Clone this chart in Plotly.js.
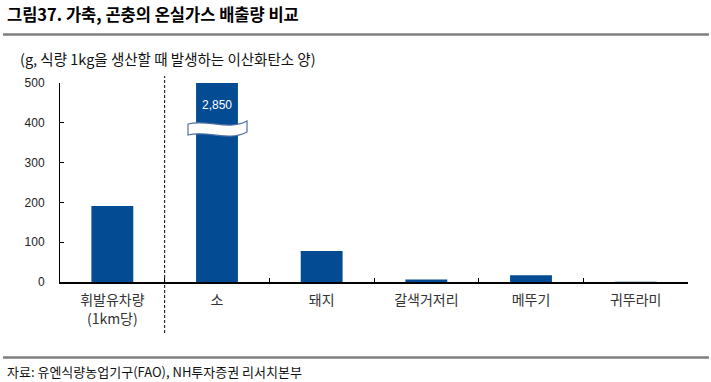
<!DOCTYPE html>
<html>
<head>
<meta charset="utf-8">
<script src="https://cdn.plot.ly/plotly-3.0.1.min.js"></script>
<style>html,body{margin:0;padding:0;background:#fff;}</style>
</head>
<body>
<div id="chart" style="width:711px;height:382px;"></div>
<script>
const categories = ['휘발유차량<br>(1km당)', '소', '돼지', '갈색거저리', '메뚜기', '귀뚜라미'];
const values = [191, 2850, 78, 6, 17, 0.5];
const yTicks = [0, 100, 200, 300, 400, 500];
const yMax = 500;
const titleText = '그림37. 가축, 곤충의 온실가스 배출량 비교';
const unitText = '(g, 식량 1kg을 생산할 때 발생하는 이산화탄소 양)';
const sourceText = '자료: 유엔식량농업기구(FAO), NH투자증권 리서치본부';

const KR = '"Noto Sans CJK KR", "Noto Sans", sans-serif';
const NUM = '"Liberation Sans", Arial, sans-serif';
const barColor = '#034C93';

// pixel helpers for decoration placement (plot area 60..688 x, 83..282 y)
const L = 60, R = 688, T = 83, B = 282;
const px = p => (p - L) / (R - L);
const py = p => (B - p) / (B - T);

const brokenIdx = values.findIndex(v => v > yMax);

// break marker (wavy white band) in data coords around the broken bar
const cx = brokenIdx, w = (R - L) / categories.length, ys = yMax / (B - T);
const X = p => cx + (p - 217) / w;
const Y = p => (B - p) * ys;
const breakPath = `M${X(188)},${Y(124)} C${X(208)},${Y(119)} ${X(228)},${Y(131)} ${X(247)},${Y(121)} ` +
  `L${X(247)},${Y(132)} C${X(228)},${Y(142)} ${X(208)},${Y(130)} ${X(188)},${Y(135)} Z`;

const trace = {
  type: 'bar',
  x: categories,
  y: values,
  marker: {color: barColor, line: {width: 0}},
  width: 0.4,
  hoverinfo: 'skip'
};

const layout = {
  width: 711, height: 382,
  margin: {l: L, r: 711 - R, t: T, b: 382 - B},
  paper_bgcolor: '#fff', plot_bgcolor: '#fff',
  showlegend: false,
  title: {
    text: '<b>' + titleText + '</b>',
    x: 7 / 711, xanchor: 'left', xref: 'container',
    y: 1 - 15 / 382, yanchor: 'middle', yref: 'container',
    font: {family: KR, size: 16.5, color: '#000'}
  },
  xaxis: {
    type: 'category',
    showline: true, linecolor: '#000', linewidth: 1.5,
    ticks: 'inside', ticklen: 4, tickcolor: '#000', tickwidth: 1,
    tickson: 'boundaries',
    showgrid: false, zeroline: false,
    tickfont: {family: KR, size: 14, color: '#333'},
    ticklabelstandoff: 5,
    fixedrange: true
  },
  yaxis: {
    range: [0, yMax],
    tickvals: yTicks,
    ticktext: yTicks.map(String),
    showline: true, linecolor: '#000', linewidth: 1,
    ticks: 'inside', ticklen: 4, tickcolor: '#000',
    showgrid: false, zeroline: false,
    tickfont: {family: NUM, size: 12, color: '#222'},
    ticklabelstandoff: 12,
    fixedrange: true
  },
  shapes: [
    {type: 'line', xref: 'paper', yref: 'paper', x0: px(3), x1: px(709), y0: py(34.5), y1: py(34.5),
      line: {color: '#808080', width: 2.5}},
    {type: 'line', xref: 'paper', yref: 'paper', x0: px(3), x1: px(709), y0: py(357.5), y1: py(357.5),
      line: {color: '#808080', width: 2.5}},
    {type: 'line', xref: 'x', yref: 'paper', x0: 0.5, x1: 0.5, y0: py(333), y1: py(76),
      line: {color: '#000', width: 1, dash: '3px,2px'}},
    {type: 'path', xref: 'x', yref: 'y', path: breakPath,
      fillcolor: '#fff', line: {color: '#4F6FA3', width: 1.2}}
  ],
  annotations: [
    {xref: 'x', yref: 'y', x: brokenIdx, y: Y(105), text: values[brokenIdx].toLocaleString('en-US'),
      showarrow: false, font: {family: NUM, size: 12, color: '#fff'}},
    {xref: 'paper', yref: 'paper', x: px(18), y: py(58), xanchor: 'left', yanchor: 'middle',
      text: unitText, showarrow: false, font: {family: KR, size: 14.5, color: '#111'}},
    {xref: 'paper', yref: 'paper', x: px(5), y: py(371), xanchor: 'left', yanchor: 'middle',
      text: sourceText, showarrow: false, font: {family: KR, size: 13, color: '#111'}}
  ]
};

Plotly.newPlot('chart', [trace], layout, {displayModeBar: false, staticPlot: true});
</script>
</body>
</html>
